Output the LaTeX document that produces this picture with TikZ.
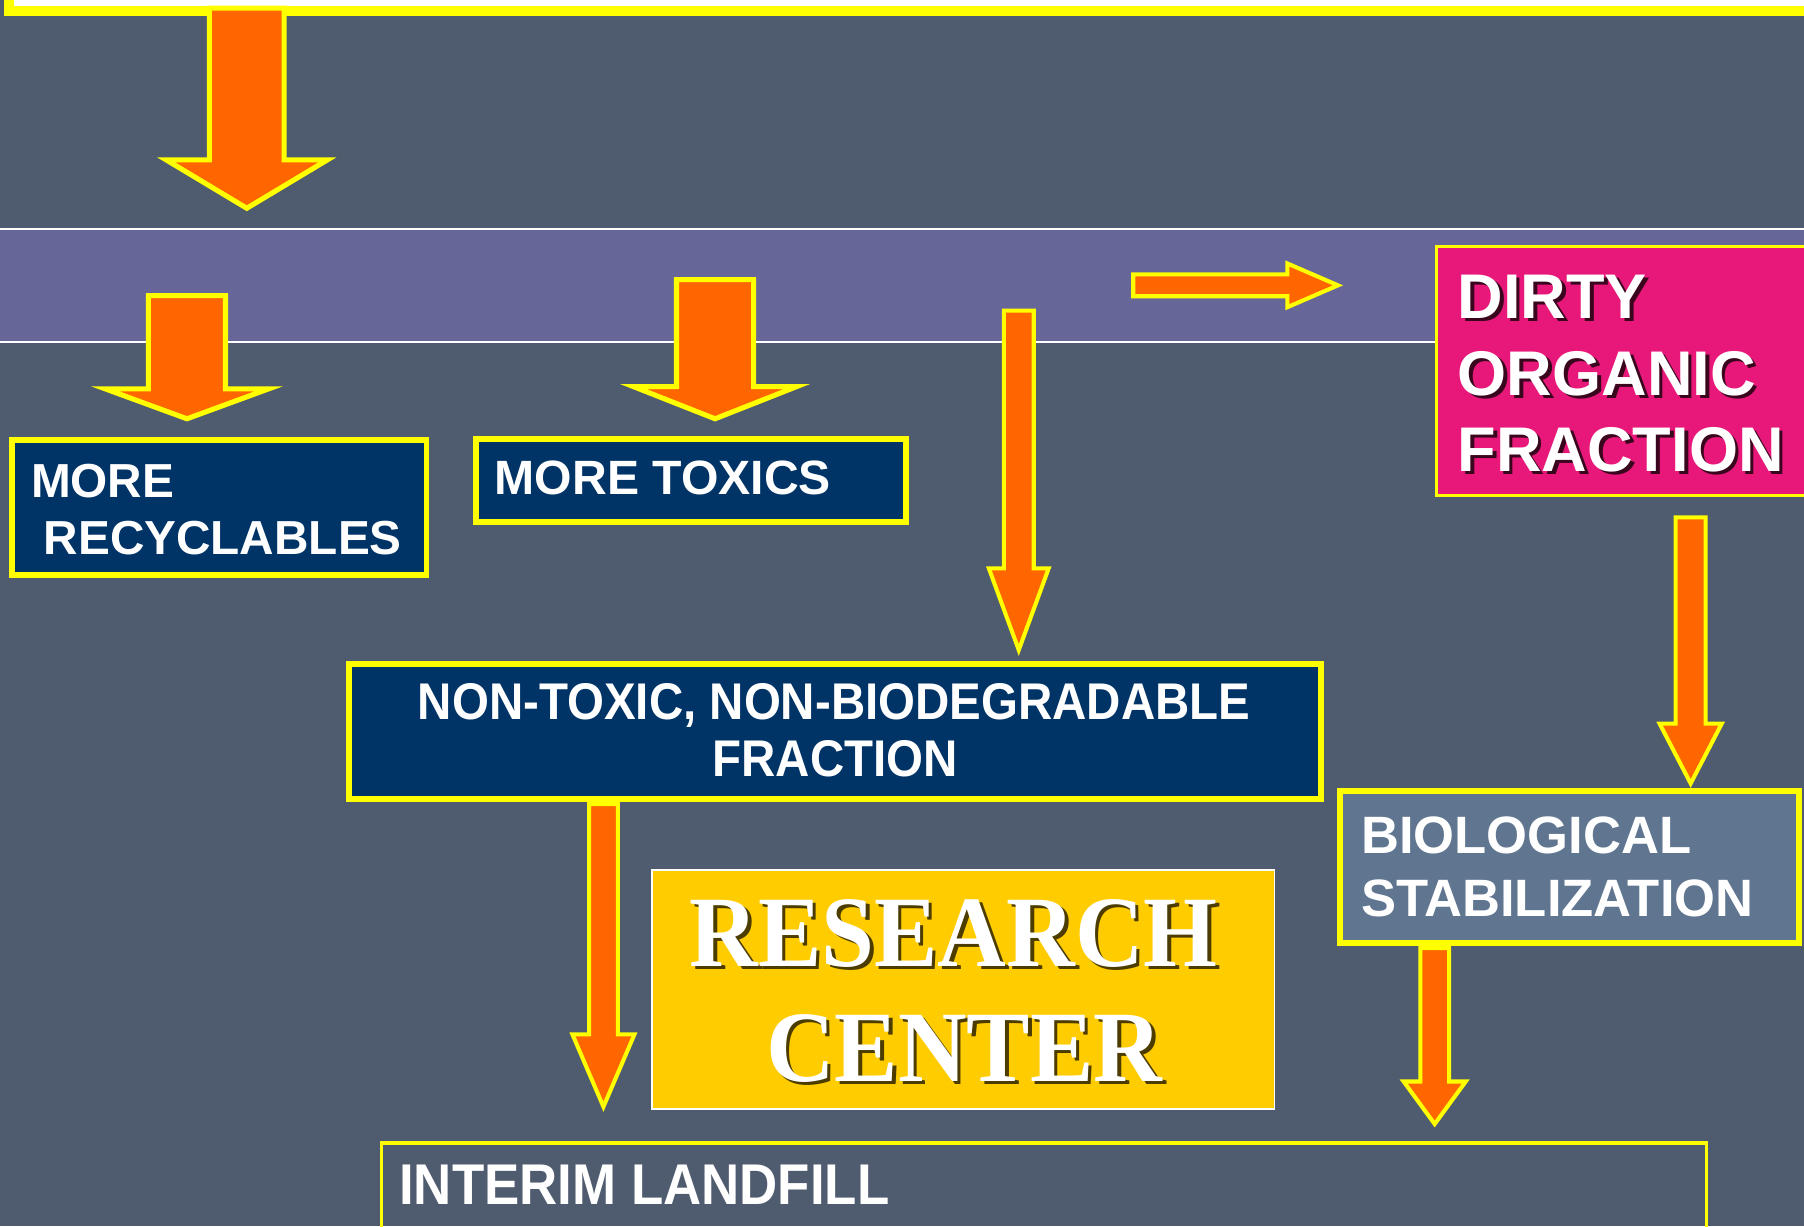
\documentclass[tikz,border=0pt]{standalone}
\usepackage{fontspec}
\setmainfont{Liberation Sans}
\newfontfamily\narrowsans[FakeStretch=0.92]{Liberation Sans}
\newfontfamily\titleserif[FakeStretch=0.94]{Liberation Serif}
\usetikzlibrary{calc}
\definecolor{bgslate}{RGB}{79,91,111}
\definecolor{bandpurple}{RGB}{102,102,153}
\definecolor{navybox}{RGB}{0,51,102}
\definecolor{pinkbox}{RGB}{232,24,122}
\definecolor{goldbox}{RGB}{255,204,0}
\definecolor{slatebox}{RGB}{95,117,144}
\definecolor{arroworange}{RGB}{255,102,0}
\definecolor{lineyellow}{RGB}{255,255,0}
\tikzset{
  boxnode/.style={rectangle, inner sep=0pt, outer sep=0pt, anchor=north west},
  yellowthick/.style={draw=lineyellow, line width=1.45pt},
  yellowthin/.style={draw=lineyellow, line width=0.75pt},
  blockarrow/.style={fill=arroworange, draw=lineyellow, line width=1.25pt, line join=miter},
  thinarrow/.style={fill=arroworange, draw=lineyellow, line width=1.0pt, line join=miter},
  label/.style={inner sep=0pt, outer sep=0pt, text=white},
}
% down arrow: #1 style, #2 top coordinate, #3 tip coordinate, #4 head length, #5 shaft half width, #6 head half width
\newcommand{\dnarrow}[6]{%
  \draw[#1] ($(#2)+(-#5,0)$) -- ($(#2)+(#5,0)$) -- ($(#3)+(#5,-#4)$) -- ($(#3)+(#6,-#4)$)
    -- (#3) -- ($(#3)+(-#6,-#4)$) -- ($(#3)+(-#5,-#4)$) -- cycle;}
% right arrow: #1 style, #2 tail coordinate, #3 tip coordinate, #4 head length, #5 shaft half width, #6 head half width
\newcommand{\rtarrow}[6]{%
  \draw[#1] ($(#2)+(0,-#5)$) -- ($(#3)+(-#4,-#5)$) -- ($(#3)+(-#4,-#6)$) -- (#3)
    -- ($(#3)+(-#4,#6)$) -- ($(#3)+(-#4,#5)$) -- ($(#2)+(0,#5)$) -- cycle;}
\begin{document}
\begin{tikzpicture}[x=0.01cm, y=-0.01cm]
\useasboundingbox (0,0) rectangle (1568,1066);
\fill[bgslate] (0,0) rectangle (1568,1066);
\clip (0,0) rectangle (1568,1066);

% top frame (box above the picture)
\node[boxnode, fill=white, draw=lineyellow, line width=2.6pt, minimum width=16cm, minimum height=0.6cm, anchor=south west] (topframe) at (8,9.5) {};

% band
\fill[bandpurple] (0,199) rectangle (1568,297);
\draw[white, line width=0.5pt] (0,199) -- (1568,199);
\draw[white, line width=0.5pt] (0,297) -- (1568,297);

% boxes
\node[boxnode, fill=navybox, yellowthick, minimum width=3.60cm, minimum height=1.17cm] (recyc) at (10.5,382.5) {};
\node[boxnode, fill=navybox, yellowthick, minimum width=3.74cm, minimum height=0.72cm] (toxics) at (413.5,381.5) {};
\node[boxnode, fill=pinkbox, yellowthin, minimum width=3.6cm, minimum height=2.16cm] (dirty) at (1248.5,214.5) {};
\node[boxnode, fill=navybox, yellowthick, minimum width=8.44cm, minimum height=1.17cm] (nontox) at (303.5,577.5) {};
\node[boxnode, fill=slatebox, yellowthick, minimum width=3.99cm, minimum height=1.32cm] (bio) at (1164.5,687.5) {};
\node[boxnode, fill=goldbox, draw=white, line width=0.45pt, minimum width=5.41cm, minimum height=2.07cm] (research) at (566.5,756.5) {};
\node[boxnode, draw=lineyellow, line width=0.85pt, minimum width=11.51cm, minimum height=1.2cm] (landfill) at (331.5,993.5) {};

% texts
\node[label, anchor=base west, font=\fontsize{11.8pt}{14pt}\selectfont\bfseries] (recyc1) at (27,432) {MORE};
\node[label, anchor=base west, font=\fontsize{11.8pt}{14pt}\selectfont\bfseries] (recyc2) at (38,482) {RECYCLABLES};
\node[label, anchor=base west, font=\fontsize{11.9pt}{14pt}\selectfont\bfseries] (toxtext) at (430,430) {MORE TOXICS};

\foreach \w/\yy/\nm in {DIRTY/277/dirtyA, ORGANIC/344/dirtyB, FRACTION/410/dirtyC}{
  \node[inner sep=0pt, anchor=base west, text=black, opacity=0.75, font=\fontsize{15.6pt}{18pt}\selectfont\bfseries] (\nm s) at (1269.5,\yy+2.5) {\w};
  \node[label, anchor=base west, font=\fontsize{15.6pt}{18pt}\selectfont\bfseries] (\nm) at (1267,\yy) {\w};
}

\node[label, anchor=base, font=\fontsize{12.75pt}{14pt}\narrowsans\bfseries] (nontox1) at (725,625) {NON-TOXIC, NON-BIODEGRADABLE};
\node[label, anchor=base, font=\fontsize{12.75pt}{14pt}\narrowsans\bfseries] (nontox2) at (726,675) {FRACTION};

\node[label, anchor=base west, font=\fontsize{13pt}{15pt}\selectfont\bfseries] (bio1) at (1183,742) {BIOLOGICAL};
\node[label, anchor=base west, font=\fontsize{13pt}{15pt}\selectfont\bfseries] (bio2) at (1183,797) {STABILIZATION};

\node[inner sep=0pt, anchor=base, text=black, opacity=0.7, font=\fontsize{25pt}{28pt}\titleserif\bfseries] (res1s) at (832,843) {RESEARCH};
\node[label, anchor=base, font=\fontsize{25pt}{28pt}\titleserif\bfseries] (res1) at (829,840) {RESEARCH};
\node[inner sep=0pt, anchor=base, text=black, opacity=0.7, font=\fontsize{25pt}{28pt}\titleserif\bfseries] (res2s) at (841,943) {CENTER};
\node[label, anchor=base, font=\fontsize{25pt}{28pt}\titleserif\bfseries] (res2) at (838,940) {CENTER};

\node[label, anchor=base west, font=\fontsize{14.2pt}{16pt}\narrowsans\bfseries] (landtext) at (347,1047) {INTERIM LANDFILL};

% arrow end points
\coordinate (a1top) at (214.5,7);    \coordinate (a1tip) at (214.5,181);
\coordinate (a2top) at (162.5,257);  \coordinate (a2tip) at (162.5,364);
\coordinate (a3top) at (621.5,243);  \coordinate (a3tip) at (621.5,364);
\coordinate (a4top) at (885.5,270);  \coordinate (a4tip) at (885.5,565);
\coordinate (a5tail) at (985,248);   \coordinate (a5tip) at (1163,248);
\coordinate (a6top) at ($(dirty.south west)+(221,19)$);
\coordinate (a6tip) at (1469.5,681);
\coordinate (a7top) at (524.5,699);  \coordinate (a7tip) at (524.5,962);
\coordinate (a8top) at (1247,824);   \coordinate (a8tip) at (1247,977);

\dnarrow{blockarrow}{a1top}{a1tip}{42}{32.5}{70}
\dnarrow{blockarrow}{a2top}{a2tip}{26}{33.5}{71}
\dnarrow{blockarrow}{a3top}{a3tip}{28}{33.5}{71}
\dnarrow{thinarrow}{a4top}{a4tip}{71}{13}{26}
\rtarrow{thinarrow}{a5tail}{a5tip}{44}{9.5}{19}
\dnarrow{thinarrow}{a6top}{a6tip}{52}{13}{27}
\dnarrow{thinarrow}{a7top}{a7tip}{63}{12.5}{27}
\dnarrow{thinarrow}{a8top}{a8tip}{37}{12.5}{27}
\end{tikzpicture}
\end{document}
